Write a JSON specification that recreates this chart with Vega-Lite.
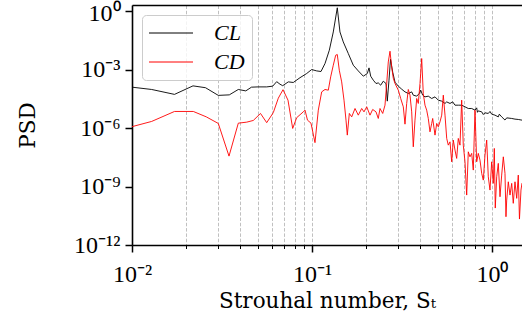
{
"$schema": "https://vega.github.io/schema/vega-lite/v6.json",
"width": 390, "height": 240,
"autosize": "none",
"padding": {"left": 132, "top": 5, "right": 0, "bottom": 79},
"config": {"view": {"stroke": null}, "font": "Liberation Serif"},
"datasets": {
"cl": [
{"f":0.0100,"p":1.27e-4},{"f":0.01286,"p":9.66e-5},{"f":0.01722,"p":5.41e-5},{"f":0.02182,"p":1.48e-4},{"f":0.02561,"p":1.19e-4},{"f":0.03016,"p":4.81e-5},{"f":0.03472,"p":5.11e-5},{"f":0.03896,"p":9.66e-5},{"f":0.04287,"p":8.18e-5},{"f":0.04612,"p":1.27e-4},{"f":0.05012,"p":1.31e-4},{"f":0.05602,"p":1.31e-4},{"f":0.06049,"p":1.43e-4},{"f":0.06366,"p":2.43e-4},{"f":0.06641,"p":1.80e-4},{"f":0.06874,"p":1.51e-4},{"f":0.07384,"p":2.37e-4},{"f":0.07872,"p":2.21e-4},{"f":0.08577,"p":3.89e-4},{"f":0.09345,"p":6.38e-4},{"f":0.0996,"p":1.02e-3},{"f":0.1062,"p":8.67e-4},{"f":0.1122,"p":8.09e-4},{"f":0.1181,"p":2.08e-3},{"f":0.1248,"p":1.0e-2},{"f":0.1313,"p":8.67e-2},{"f":0.1382,"p":1.51},{"f":0.1430,"p":8.67e-2},{"f":0.1492,"p":2.67e-2},{"f":0.1591,"p":6.78e-3},{"f":0.1696,"p":1.70e-3},{"f":0.1808,"p":8.67e-4},{"f":0.1928,"p":4.64e-4},{"f":0.2029,"p":6.38e-4},{"f":0.2074,"p":1.24e-3},{"f":0.2119,"p":4.64e-4},{"f":0.2191,"p":2.90e-4},{"f":0.2268,"p":1.96e-4},{"f":0.2335,"p":2.10e-4},{"f":0.2408,"p":1.60e-4},{"f":0.2489,"p":2.57e-4},{"f":0.2577,"p":1.96e-4},{"f":0.2620,"p":2.43e-5},{"f":0.2678,"p":2.90e-4},{"f":0.2730,"p":3.45e-3},{"f":0.2808,"p":7.45e-4},{"f":0.2892,"p":2.29e-4},{"f":0.3017,"p":1.43e-4},{"f":0.3150,"p":1.0e-4},{"f":0.3286,"p":7.27e-5},{"f":0.3428,"p":6.02e-5},{"f":0.3580,"p":7.27e-5},{"f":0.3654,"p":4.92e-5},{"f":0.3817,"p":4.38e-5},{"f":0.3946,"p":6.02e-5},{"f":0.4018,"p":8.89e-5},{"f":0.4121,"p":4.92e-5},{"f":0.4244,"p":4.03e-5},{"f":0.4427,"p":4.38e-5},{"f":0.4624,"p":3.33e-5},{"f":0.4824,"p":4.03e-5},{"f":0.5032,"p":2.73e-5},{"f":0.5256,"p":2.43e-5},{"f":0.5483,"p":1.85e-5},{"f":0.5603,"p":2.23e-5},{"f":0.5845,"p":1.85e-5},{"f":0.6050,"p":2.23e-5},{"f":0.6229,"p":1.51e-5},{"f":0.6498,"p":1.51e-5},{"f":0.6786,"p":1.51e-5},{"f":0.7079,"p":1.24e-5},{"f":0.7384,"p":1.02e-5},{"f":0.7713,"p":1.02e-5},{"f":0.8046,"p":8.38e-6},{"f":0.8222,"p":1.10e-5},{"f":0.8300,"p":6.5e-6},{"f":0.8392,"p":7.71e-6},{"f":0.8766,"p":6.86e-6},{"f":0.8948,"p":5.0e-6},{"f":0.9144,"p":6.10e-6},{"f":0.9537,"p":5.68e-6},{"f":0.9747,"p":7.18e-6},{"f":0.9962,"p":5.22e-6},{"f":1.039,"p":4.64e-6},{"f":1.084,"p":3.79e-6},{"f":1.098,"p":5.22e-6},{"f":1.132,"p":3.79e-6},{"f":1.181,"p":2.6e-6},{"f":1.207,"p":3.37e-6},{"f":1.287,"p":3.14e-6},{"f":1.342,"p":2.90e-6},{"f":1.400,"p":2.79e-6},{"f":1.468,"p":2.57e-6}
],
"cd": [
{"f":0.0100,"p":1.19e-6},{"f":0.01286,"p":2.21e-6},{"f":0.01722,"p":7.18e-6},{"f":0.02191,"p":7.18e-6},{"f":0.02587,"p":3.79e-6},{"f":0.03016,"p":1.74e-6},{"f":0.03459,"p":3.66e-8},{"f":0.03896,"p":1.80e-6},{"f":0.04337,"p":2.03e-6},{"f":0.04719,"p":2.48e-6},{"f":0.05175,"p":5.68e-6},{"f":0.05602,"p":1.91e-6},{"f":0.06095,"p":6.24e-6},{"f":0.06499,"p":3.45e-5},{"f":0.06901,"p":9.42e-5},{"f":0.07356,"p":2.73e-5},{"f":0.07812,"p":9.66e-7},{"f":0.08222,"p":3.45e-6},{"f":0.08948,"p":6.86e-6},{"f":0.09144,"p":8.38e-6},{"f":0.09441,"p":2.57e-6},{"f":0.09873,"p":1.80e-6},{"f":0.1039,"p":1.80e-7},{"f":0.1084,"p":8.38e-6},{"f":0.1132,"p":7.27e-5},{"f":0.1181,"p":9.66e-5},{"f":0.1232,"p":8.89e-5},{"f":0.1270,"p":4.28e-4},{"f":0.1313,"p":1.70e-3},{"f":0.1354,"p":5.54e-3},{"f":0.1382,"p":6.02e-3},{"f":0.1418,"p":9.42e-4},{"f":0.1462,"p":2.37e-4},{"f":0.1506,"p":2.73e-5},{"f":0.1545,"p":2.57e-6},{"f":0.1571,"p":4.38e-7},{"f":0.1612,"p":5.68e-6},{"f":0.1662,"p":3.79e-6},{"f":0.1734,"p":1.02e-5},{"f":0.1808,"p":4.64e-6},{"f":0.1888,"p":1.02e-5},{"f":0.1945,"p":6.86e-6},{"f":0.2014,"p":1.24e-5},{"f":0.2100,"p":4.64e-6},{"f":0.2174,"p":9.10e-6},{"f":0.2268,"p":6.86e-6},{"f":0.2335,"p":3.14e-6},{"f":0.2387,"p":1.02e-5},{"f":0.2471,"p":5.68e-6},{"f":0.2544,"p":1.51e-5},{"f":0.2600,"p":1.96e-4},{"f":0.2654,"p":2.51e-3},{"f":0.2713,"p":8.89e-3},{"f":0.2772,"p":1.34e-3},{"f":0.2829,"p":3.66e-4},{"f":0.2892,"p":1.96e-4},{"f":0.3017,"p":8.89e-5},{"f":0.3110,"p":3.33e-5},{"f":0.3216,"p":1.24e-5},{"f":0.3286,"p":1.60e-6},{"f":0.3358,"p":1.85e-5},{"f":0.3428,"p":9.66e-5},{"f":0.3503,"p":4.92e-5},{"f":0.3580,"p":6.86e-6},{"f":0.3654,"p":1.10e-7},{"f":0.3734,"p":2.57e-6},{"f":0.3817,"p":3.33e-5},{"f":0.3896,"p":1.85e-5},{"f":0.3981,"p":1.96e-4},{"f":0.4069,"p":3.75e-3},{"f":0.4152,"p":6.02e-5},{"f":0.4244,"p":1.51e-5},{"f":0.4337,"p":8.38e-6},{"f":0.4427,"p":3.14e-6},{"f":0.4524,"p":6.46e-7},{"f":0.4624,"p":1.74e-6},{"f":0.4684,"p":3.14e-6},{"f":0.4824,"p":4.38e-7},{"f":0.4930,"p":1.74e-6},{"f":0.5032,"p":1.17e-6},
{"f":0.5141,"p":2.10e-6},{"f":0.5256,"p":4.64e-6},{"f":0.5364,"p":4.92e-5},{"f":0.5483,"p":4.64e-6},{"f":0.5603,"p":2.96e-7},{"f":0.5718,"p":1.34e-7},{"f":0.5845,"p":1.98e-7},{"f":0.5972,"p":1.87e-8},{"f":0.6095,"p":2.43e-7},{"f":0.6229,"p":7.45e-8},{"f":0.6366,"p":2.79e-8},{"f":0.6498,"p":2.96e-7},{"f":0.6641,"p":1.34e-7},{"f":0.6786,"p":2.73e-5},{"f":0.6927,"p":1.34e-7},{"f":0.7079,"p":1.87e-8},{"f":0.7234,"p":3.66e-10},{"f":0.7384,"p":6.09e-8},{"f":0.7546,"p":3.37e-8},{"f":0.7713,"p":5.05e-8},{"f":0.7872,"p":7.02e-9},{"f":0.8046,"p":8.38e-6},{"f":0.8222,"p":1.87e-8},{"f":0.8392,"p":5.05e-8},{"f":0.8577,"p":2.29e-8},{"f":0.8766,"p":4.75e-9},{"f":0.8948,"p":2.15e-9},{"f":0.9144,"p":4.12e-8},{"f":0.9345,"p":2.43e-7},{"f":0.9537,"p":3.18e-9},{"f":0.9747,"p":6.62e-10},{"f":0.9962,"p":1.87e-8},{"f":1.017,"p":1.46e-9},{"f":1.030,"p":9.10e-8},{"f":1.043,"p":7.89e-11},{"f":1.062,"p":3.18e-9},{"f":1.084,"p":1.55e-8},{"f":1.108,"p":3.00e-10},{"f":1.132,"p":3.89e-9},{"f":1.156,"p":3.37e-8},{"f":1.181,"p":4.75e-9},{"f":1.196,"p":2.83e-11},{"f":1.207,"p":2.03e-10},{"f":1.232,"p":1.76e-9},{"f":1.259,"p":3.66e-10},{"f":1.287,"p":1.46e-9},{"f":1.313,"p":1.38e-10},{"f":1.342,"p":1.76e-9},{"f":1.372,"p":2.48e-10},{"f":1.400,"p":3.89e-9},{"f":1.421,"p":2.15e-11},{"f":1.449,"p":6.62e-10},{"f":1.468,"p":1.51e-9}
]
},
"layer": [
{
"data": {"name": "cl"},
"mark": {"type": "line", "strokeWidth": 0.9, "clip": true},
"encoding": {
"x": {"field": "f", "type": "quantitative",
 "scale": {"type": "log", "domain": [0.01, 1.468], "nice": false},
 "axis": {"values": [0.01,0.02,0.03,0.04,0.05,0.06,0.07,0.08,0.09,0.1,0.2,0.3,0.4,0.5,0.6,0.7,0.8,0.9,1],
  "grid": true, "gridDash": [3.5, 1.8], "gridColor": "#b0b0b0", "gridWidth": 0.8,
  "labelExpr": "datum.value == 0.01 ? '10⁻²' : datum.value == 0.1 ? '10⁻¹' : datum.value == 1 ? '10⁰' : ''",
  "tickSize": {"condition": {"test": "datum.value == 0.01 || datum.value == 0.1 || datum.value == 1", "value": 7}, "value": 3.5},
  "tickWidth": {"condition": {"test": "datum.value == 0.01 || datum.value == 0.1 || datum.value == 1", "value": 1.5}, "value": 1},
  "tickColor": "black", "domainColor": "black", "domainWidth": 1.6,
  "labelFont": "Liberation Serif", "labelFontSize": 24, "labelColor": "black", "labelPadding": 10, "labelFlush": false,
  "title": "Strouhal number, Sₜ", "titleFont": "DejaVu Serif", "titleFontSize": 21.5, "titleFontWeight": "normal", "titleColor": "black", "titlePadding": 4}},
"y": {"field": "p", "type": "quantitative",
 "scale": {"type": "log", "domain": [1e-12, 2.1], "nice": false},
 "axis": {"values": [1e-12, 1e-9, 1e-6, 1e-3, 1],
  "grid": false,
  "labelExpr": "datum.value >= 0.5 ? '10⁰' : datum.value >= 5e-4 ? '10⁻³' : datum.value >= 5e-7 ? '10⁻⁶' : datum.value >= 5e-10 ? '10⁻⁹' : '10⁻¹²'",
  "labelOffset": {"condition": {"test": "datum.value >= 0.5", "value": 2}, "value": 0},
  "tickSize": 7, "tickWidth": 1.5, "tickColor": "black", "domainColor": "black", "domainWidth": 1.6,
  "labelFont": "Liberation Serif", "labelFontSize": 24, "labelColor": "black", "labelPadding": 5,
  "title": "PSD", "titleFont": "DejaVu Serif", "titleFontSize": 21.5, "titleFontWeight": "normal", "titleColor": "black", "titlePadding": 34}},
"color": {"datum": "CL", "type": "nominal",
 "scale": {"domain": ["CL", "CD"], "range": ["black", "red"]},
 "legend": {"title": null, "orient": "none", "legendX": 10, "legendY": 10,
  "fillColor": "rgba(255,255,255,0.8)", "strokeColor": "#cccccc", "cornerRadius": 4, "padding": 7,
  "symbolType": "M-2,0H6", "symbolSize": 121, "symbolStrokeWidth": 1,
  "labelFont": "Liberation Serif", "labelFontSize": 22, "labelFontStyle": "italic", "labelColor": "black", "labelOffset": 43, "rowPadding": 7}}
}
},
{
"data": {"name": "cd"},
"mark": {"type": "line", "strokeWidth": 0.9, "clip": true},
"encoding": {
"x": {"field": "f", "type": "quantitative",
 "scale": {"type": "log", "domain": [0.01, 1.468], "nice": false},
 "axis": {"orient": "top", "domain": true, "domainColor": "black", "domainWidth": 1.6, "ticks": false, "labels": false, "grid": false, "title": null}},
"y": {"field": "p", "type": "quantitative", "scale": {"type": "log", "domain": [1e-12, 2.1], "nice": false}},
"color": {"datum": "CD", "type": "nominal"}
}
}
],
"resolve": {"axis": {"x": "independent"}}
}
